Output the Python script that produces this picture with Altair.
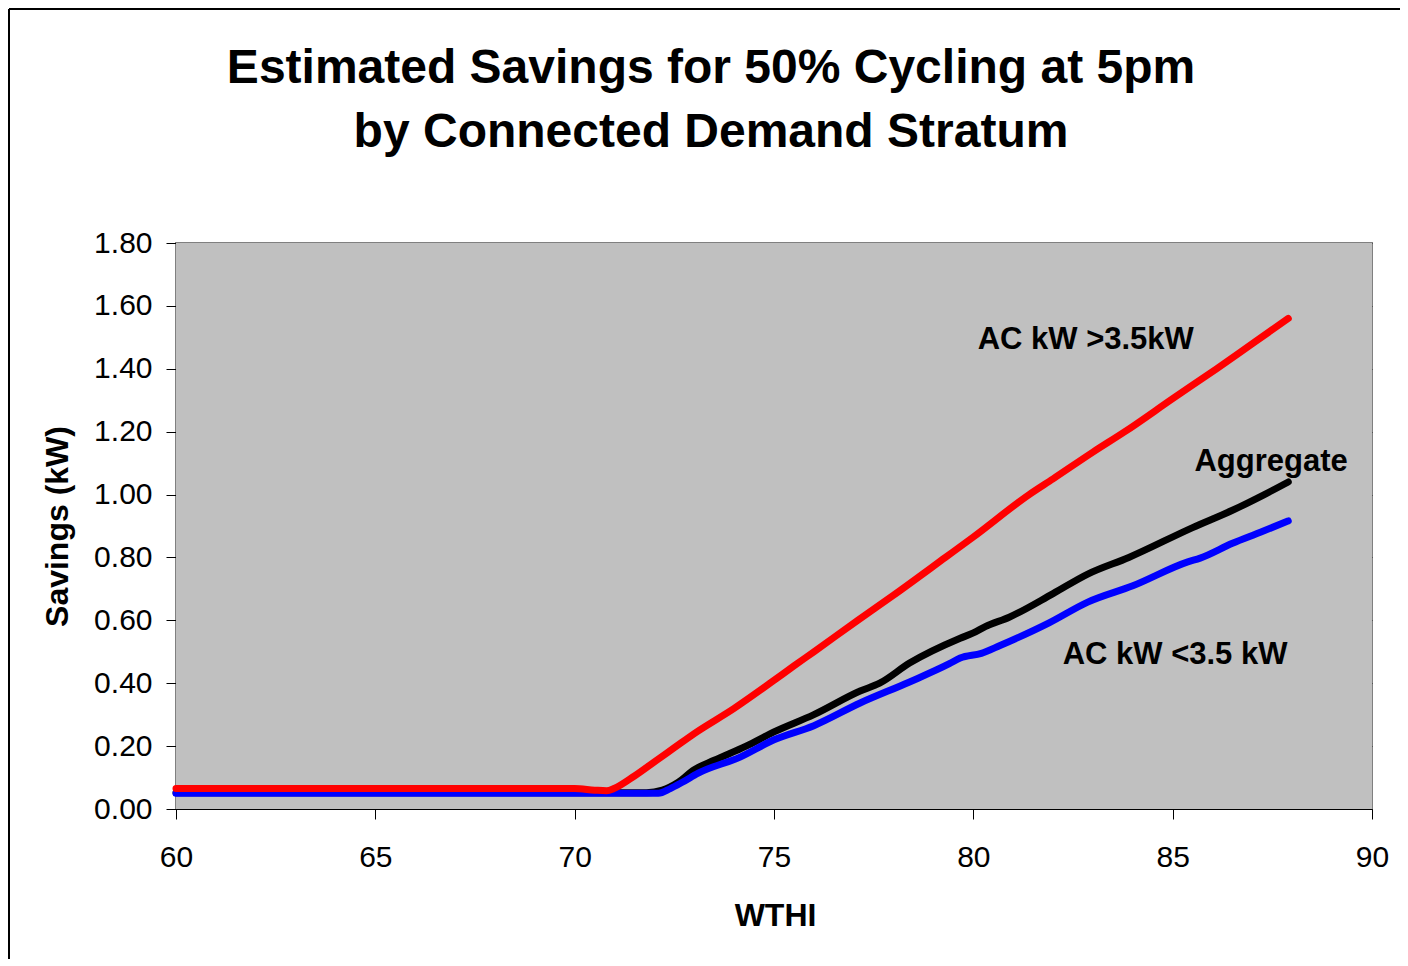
import altair as alt
import pandas as pd

title_lines = ["Estimated Savings for 50% Cycling at 5pm", "by Connected Demand Stratum"]
x_title = "WTHI"
y_title = "Savings (kW)"

series_names = ["Aggregate", "AC kW <3.5 kW", "AC kW >3.5kW"]
series_colors = ["#000000", "#0000FF", "#FF0000"]

# AC kW >3.5kW (red)
large_x = [60, 70, 70.5, 70.8, 71.0, 71.5, 72.0, 72.5, 73.0, 74.0, 74.9, 75.5, 76.0,
           77.1, 78.0, 79.3, 80.0, 81.4, 82.0, 83.0, 83.8, 85.0, 86.1, 87.0, 87.9]
large_y = [0.065, 0.065, 0.060, 0.058, 0.066, 0.105, 0.150, 0.195, 0.240, 0.320, 0.400,
           0.455, 0.500, 0.600, 0.680, 0.800, 0.865, 1.000, 1.050, 1.135, 1.200, 1.305, 1.400,
           1.480, 1.560]

# Aggregate (black)
agg_x = [60, 71.8, 72.2, 72.6, 73.0, 73.5, 74.3, 75.0, 76.0, 77.16, 77.65, 78.4, 79.67, 80.0,
         80.3, 80.9, 82.0, 82.87, 83.9, 85.5, 86.5, 87.3, 87.9]
agg_y = [0.052, 0.052, 0.060, 0.085, 0.125, 0.155, 0.200, 0.245, 0.300, 0.375, 0.400, 0.464,
         0.543, 0.560, 0.580, 0.610, 0.685, 0.747, 0.800, 0.895, 0.950, 1.000, 1.040]

# AC kW <3.5 kW (blue)
small_x = [60, 72.1, 72.4, 72.7, 73.1, 74.15, 75.0, 76.0, 77.16, 78.4, 79.4, 79.67, 80.2, 80.67,
           81.9, 82.87, 84.0, 85.38, 85.69, 86.5, 87.2, 87.9]
small_y = [0.050, 0.050, 0.065, 0.085, 0.114, 0.165, 0.220, 0.265, 0.337, 0.404, 0.462, 0.480,
           0.495, 0.520, 0.592, 0.658, 0.710, 0.786, 0.798, 0.845, 0.880, 0.916]

label_text = ["AC kW >3.5kW", "Aggregate", "AC kW <3.5 kW"]
label_x = [82.82, 87.47, 85.06]
label_y = [1.463, 1.075, 0.461]

x_ticks = [60, 65, 70, 75, 80, 85, 90]
y_ticks = [0.0, 0.2, 0.4, 0.6, 0.8, 1.0, 1.2, 1.4, 1.6, 1.8]

FONT = "Liberation Sans"
W, H = 1196, 566

rows = []
for name, xs, ys in [(series_names[0], agg_x, agg_y),
                     (series_names[1], small_x, small_y),
                     (series_names[2], large_x, large_y)]:
    for i, (a, b) in enumerate(zip(xs, ys)):
        rows.append({"series": name, "WTHI": a, "Savings": b, "idx": i})
df = pd.DataFrame(rows)

xscale = alt.Scale(domain=[60, 90], nice=False, zero=False)
yscale = alt.Scale(domain=[0, 1.8], nice=False)
cscale = alt.Scale(domain=series_names, range=series_colors)

x_enc = alt.X("WTHI:Q", scale=xscale, title=x_title,
              axis=alt.Axis(values=x_ticks, grid=False, tickSize=10, labelPadding=23,
                            labelFlush=False, labelOverlap=False,
                            labelFontSize=30, titleFontSize=32, titleFont=FONT,
                            labelFont=FONT, titleFontWeight="bold",
                            titleX=599, titleY=116, titleBaseline="alphabetic",
                            domainColor="#000000", tickColor="#000000",
                            labelColor="#000000", titleColor="#000000"))
y_enc = alt.Y("Savings:Q", scale=yscale, title=y_title,
              axis=alt.Axis(values=y_ticks, format=".2f", grid=True, gridColor="#2a2a2a",
                            gridWidth=1.2, tickSize=10, labelPadding=14,
                            labelFlush=False, labelOverlap=False,
                            labelFontSize=30, titleFontSize=32, titleFont=FONT,
                            labelFont=FONT, titleFontWeight="bold",
                            titleX=-119, titleY=H / 2, titleAngle=270,
                            titleBaseline="middle", titleAlign="center",
                            domainColor="#000000", tickColor="#000000",
                            labelColor="#000000", titleColor="#000000"))

bg_df = pd.DataFrame({"a": [0]})
plot_bg = alt.Chart(bg_df).mark_rect(color="#C0C0C0").encode(
    x=alt.value(0), x2=alt.value(W), y=alt.value(0), y2=alt.value(H))

layers = []
for name in series_names:
    layers.append(
        alt.Chart(df).transform_filter(alt.datum.series == name)
        .mark_line(strokeWidth=7, strokeCap="round", strokeJoin="round",
                   interpolate="monotone")
        .encode(x=x_enc, y=y_enc, order="idx:Q",
                color=alt.Color("series:N", scale=cscale, legend=None))
    )

labels_df = pd.DataFrame({"text": label_text, "x": label_x, "y": label_y})
labels = alt.Chart(labels_df).mark_text(
    font=FONT, fontSize=31, fontWeight="bold", color="#000000",
    align="center", baseline="alphabetic"
).encode(x=alt.X("x:Q", scale=xscale), y=alt.Y("y:Q", scale=yscale), text="text:N")

border_top = alt.Chart(bg_df).mark_rule(color="#000000", strokeWidth=2).encode(
    x=alt.value(-167), x2=alt.value(W + 28), y=alt.value(-234))
border_left = alt.Chart(bg_df).mark_rule(color="#000000", strokeWidth=2).encode(
    x=alt.value(-167), y=alt.value(-234), y2=alt.value(H + 150))

chart = alt.layer(plot_bg, *layers, labels, border_top, border_left).properties(
    width=W, height=H,
    title=alt.TitleParams(text=title_lines, font=FONT, fontSize=48, fontWeight="bold",
                          color="#000000", anchor="middle", frame="group", dx=-63,
                          baseline="top", offset=-149, lineHeight=64),
    autosize=alt.AutoSizeParams(type="none"),
    padding={"left": 168, "top": 235, "right": 28, "bottom": 150},
).configure_view(
    fill="#C0C0C0", stroke="#808080", strokeWidth=2
)

chart.save("out.html", embed_options={"renderer": "svg", "actions": False})
